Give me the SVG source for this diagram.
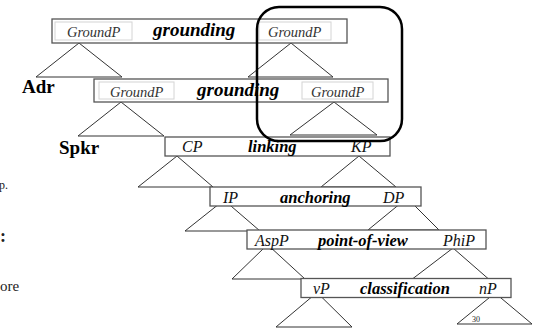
<svg xmlns="http://www.w3.org/2000/svg" width="534" height="328" viewBox="0 0 534 328">
  <style>
    .box { fill: #fff; stroke: #555; stroke-width: 1.3; }
    .cell { fill: none; stroke: #d4d4d4; stroke-width: 1; }
    .tri { fill: none; stroke: #333; stroke-width: 1; }
    .cat { font-style: italic; font-size: 16px; fill: #111; }
    .gp { font-style: italic; font-size: 14.5px; fill: #333; }
    .fn { font-style: italic; font-weight: bold; font-size: 16.5px; fill: #000; }
    .fn-lg { font-size: 19px; }
    .arg { font-weight: bold; font-size: 19px; fill: #000; }
    .side { fill: #222; }
    .focus { fill: none; stroke: #000; stroke-width: 2.5; }
  </style>

  <!-- subtrees hanging from each projection -->
  <g id="connectors">
    <polygon class="tri" points="79,43 36,77 122,77"/>
    <polygon class="tri" points="291,43 248,77 333,77"/>
    <polygon class="tri" points="121,102 78,136 164,136"/>
    <polygon class="tri" points="334,102 290,135 377,135"/>
    <polygon class="tri" points="177,156 138,187 213,187"/>
    <polygon class="tri" points="359,156 321,187 396,187"/>
    <polygon class="tri" points="224,200 185,231 260,231"/>
    <polygon class="tri" points="407,198 368,230 439,230"/>
    <polygon class="tri" points="267.5,244.6 232,279 305,279"/>
    <polygon class="tri" points="453,248 413,278.5 488,278.5"/>
    <polygon class="tri" points="317,292.5 276,327 352,327"/>
    <polygon class="tri" points="495,293 457,324 532,324"/>
  </g>

  <g font-family="Liberation Serif, Times New Roman, serif">
    <!-- side text running off the left edge -->
    <g id="side-notes">
      <text class="side" x="-1" y="189" font-size="12">p.</text>
      <text class="side" x="0" y="242" font-size="18" font-weight="bold" fill="#000">:</text>
      <text class="side" x="0" y="291" font-size="15">ore</text>
    </g>

    <g id="ground-adr">
      <rect class="box" x="52" y="19" width="295" height="24"/>
      <rect class="cell" x="55" y="22" width="77" height="18"/>
      <rect class="cell" x="259" y="22" width="72" height="18"/>
      <text class="gp" x="67" y="36.5">GroundP</text>
      <text class="fn fn-lg" x="153" y="36">grounding</text>
      <text class="gp" x="268" y="36.5">GroundP</text>
    </g>

    <g id="adr">
      <text class="arg" x="22" y="93">Adr</text>
    </g>

    <g id="ground-spkr">
      <rect class="box" x="94" y="79" width="294" height="23"/>
      <rect class="cell" x="99" y="82" width="75" height="17"/>
      <rect class="cell" x="302" y="82" width="71" height="17"/>
      <text class="gp" x="110" y="96.5">GroundP</text>
      <text class="fn fn-lg" x="197" y="96">grounding</text>
      <text class="gp" x="311" y="96.5">GroundP</text>
    </g>

    <g id="spkr">
      <text class="arg" x="59" y="154">Spkr</text>
    </g>

    <g id="linking">
      <rect class="box" x="165" y="137" width="225" height="19"/>
      <text class="cat" x="182" y="152">CP</text>
      <text class="fn" x="248" y="152">linking</text>
      <text class="cat" x="351" y="152">KP</text>
    </g>

    <g id="anchoring">
      <rect class="box" x="210" y="187" width="211" height="19"/>
      <text class="cat" x="223" y="202.5">IP</text>
      <text class="fn" x="280" y="202.5">anchoring</text>
      <text class="cat" x="383" y="202.5">DP</text>
    </g>

    <g id="point-of-view">
      <rect class="box" x="247" y="230" width="239" height="19"/>
      <text class="cat" x="255" y="245.5">AspP</text>
      <text class="fn" x="318" y="245.5">point-of-view</text>
      <text class="cat" x="443" y="245.5">PhiP</text>
    </g>

    <g id="classification">
      <rect class="box" x="301" y="278.5" width="210" height="19"/>
      <text class="cat" x="313" y="293.5">vP</text>
      <text class="fn" x="360" y="293.5">classification</text>
      <text class="cat" x="479" y="293.5">nP</text>
    </g>

    <g id="page-number">
      <text class="side" x="472" y="322" font-size="8">30</text>
    </g>
  </g>

  <!-- highlight around the two right-hand grounding specifiers -->
  <g id="highlight">
    <rect class="focus" x="257" y="7" width="145" height="134" rx="22" ry="22"/>
  </g>
</svg>
